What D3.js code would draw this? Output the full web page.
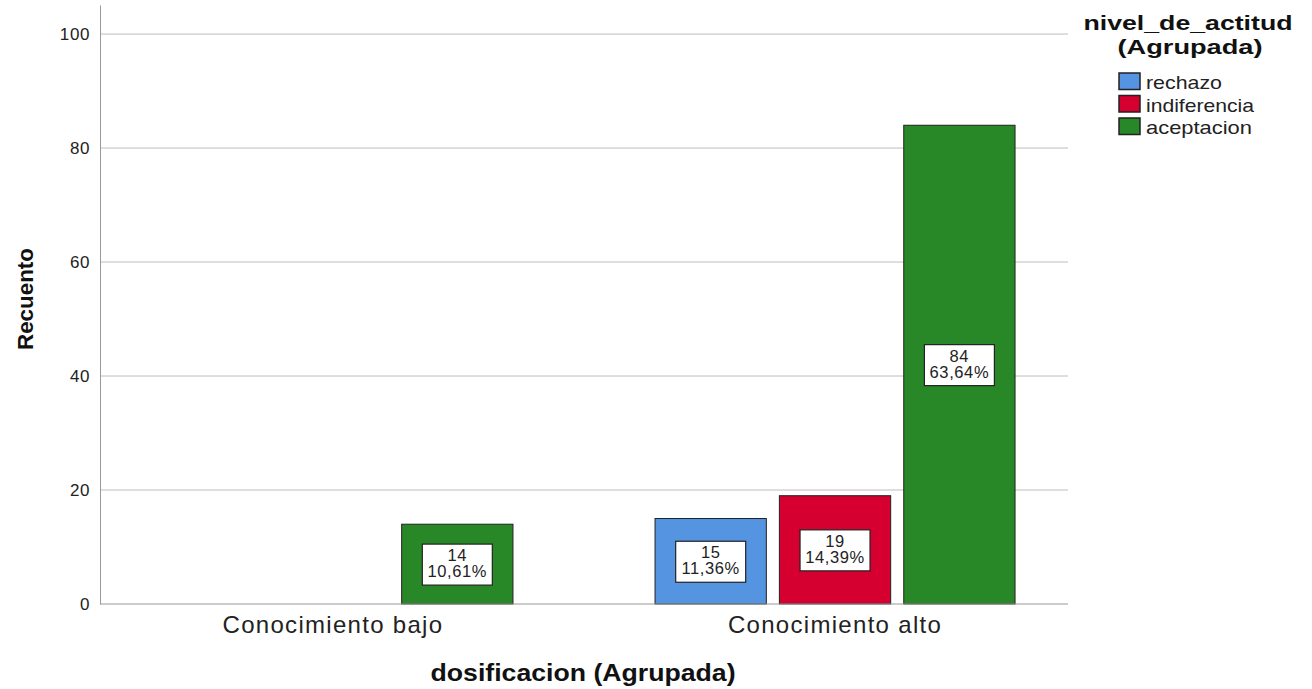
<!DOCTYPE html>
<html><head><meta charset="utf-8">
<script src="https://cdn.jsdelivr.net/npm/d3@7"></script>
<style>body{margin:0;background:#fff}svg{display:block;font-family:Arial,"Liberation Sans",sans-serif}</style>
</head><body><svg id="c" width="1312" height="689"></svg>
<script>
const categories = ["Conocimiento bajo", "Conocimiento alto"];
const series = ["rechazo", "indiferencia", "aceptacion"];
const colors = ["#5494E0", "#D5002F", "#288828"];
const rechazo = [0, 15];
const indiferencia = [0, 19];
const aceptacion = [14, 84];
const pctRechazo = ["", "11,36%"];
const pctIndiferencia = ["", "14,39%"];
const pctAceptacion = ["10,61%", "63,64%"];
const yTicks = [0, 20, 40, 60, 80, 100];

const values = [rechazo, indiferencia, aceptacion];
const pcts = [pctRechazo, pctIndiferencia, pctAceptacion];

const svg = d3.select("#c");
const pLeft = 100, pRight = 1068, pTop = 5, pBottom = 604;
const y = d3.scaleLinear().domain([0, 105.1]).range([pBottom, pTop]);
const x = d3.scalePoint().domain(categories).range([pLeft, pRight]).padding(0.464);
const xs = d3.scaleBand().domain(series).range([-180, 180]).paddingInner(0.105);

// gridlines
svg.append("g").selectAll("line").data(yTicks.filter(d => d > 0)).join("line")
  .attr("x1", pLeft).attr("x2", pRight).attr("y1", d => y(d)).attr("y2", d => y(d))
  .attr("stroke", "#bdbdbd").attr("stroke-width", 1);

// y axis
const ya = svg.append("g").attr("transform", `translate(${pLeft},0)`)
  .call(d3.axisLeft(y).tickValues(yTicks).tickSize(0).tickPadding(10));
ya.select(".domain").attr("stroke", "#999");
ya.selectAll("text").attr("font-size", 17).attr("fill", "#222").attr("font-family", "Arial,'Liberation Sans'")
  .attr("letter-spacing", 0.6);

// bars
const data = [];
categories.forEach((c, i) => series.forEach((s, j) => data.push({c, s, j, v: values[j][i], p: pcts[j][i]})));
const g = svg.append("g");
data.filter(d => d.v > 0).forEach(d => {
  const bx = x(d.c) + xs(d.s);
  g.append("rect").attr("x", bx).attr("y", y(d.v)).attr("width", xs.bandwidth())
    .attr("height", y(0) - y(d.v)).attr("fill", colors[d.j]).attr("stroke", "#222").attr("stroke-width", 1);
  const cx = bx + xs.bandwidth() / 2, cy = (y(d.v) + y(0)) / 2;
  g.append("rect").attr("x", cx - 35).attr("y", cy - 20).attr("width", 70).attr("height", 41)
    .attr("fill", "#fff").attr("stroke", "#222").attr("stroke-width", 1.2);
  g.append("text").attr("x", cx).attr("y", cy - 3).attr("text-anchor", "middle")
    .attr("font-size", 16.5).attr("letter-spacing", 0.6).attr("fill", "#222").text(d.v);
  g.append("text").attr("x", cx).attr("y", cy + 13).attr("text-anchor", "middle")
    .attr("font-size", 16.5).attr("letter-spacing", 0.6).attr("fill", "#222").text(d.p);
});

// x axis line
svg.append("line").attr("x1", pLeft).attr("x2", pRight).attr("y1", pBottom).attr("y2", pBottom)
  .attr("stroke", "#999");
svg.append("g").selectAll("text").data(categories).join("text")
  .attr("x", d => x(d)).attr("y", 633).attr("text-anchor", "middle")
  .attr("font-size", 24).attr("letter-spacing", 1.3).attr("fill", "#222").text(d => d);

// axis titles
svg.append("text").attr("x", 583).attr("y", 681).attr("text-anchor", "middle")
  .attr("font-size", 24).attr("font-weight", "bold").attr("fill", "#111")
  .attr("textLength", 305).attr("lengthAdjust", "spacingAndGlyphs").text("dosificacion (Agrupada)");
svg.append("text").attr("transform", "translate(33,299) rotate(-90)").attr("text-anchor", "middle")
  .attr("font-size", 22).attr("font-weight", "bold").attr("fill", "#111")
  .attr("textLength", 102).attr("lengthAdjust", "spacingAndGlyphs").text("Recuento");

// legend
svg.append("text").attr("x", 1188).attr("y", 30).attr("text-anchor", "middle")
  .attr("font-size", 21).attr("font-weight", "bold").attr("fill", "#111")
  .attr("textLength", 209).attr("lengthAdjust", "spacingAndGlyphs").text("nivel_de_actitud");
svg.append("text").attr("x", 1190).attr("y", 54).attr("text-anchor", "middle")
  .attr("font-size", 21).attr("font-weight", "bold").attr("fill", "#111")
  .attr("textLength", 145).attr("lengthAdjust", "spacingAndGlyphs").text("(Agrupada)");
const legendLen = [76, 108, 106];
const lg = svg.append("g").selectAll("g").data(series).join("g")
  .attr("transform", (d, i) => `translate(1119,${73 + i * 22.5})`);
lg.append("rect").attr("width", 21).attr("height", 16.5).attr("fill", (d, i) => colors[i])
  .attr("stroke", "#222").attr("stroke-width", 1.5);
lg.append("text").attr("x", 27).attr("y", 16).attr("font-size", 18.5).attr("fill", "#222")
  .attr("textLength", (d, i) => legendLen[i]).attr("lengthAdjust", "spacingAndGlyphs").text(d => d);
</script></body></html>
